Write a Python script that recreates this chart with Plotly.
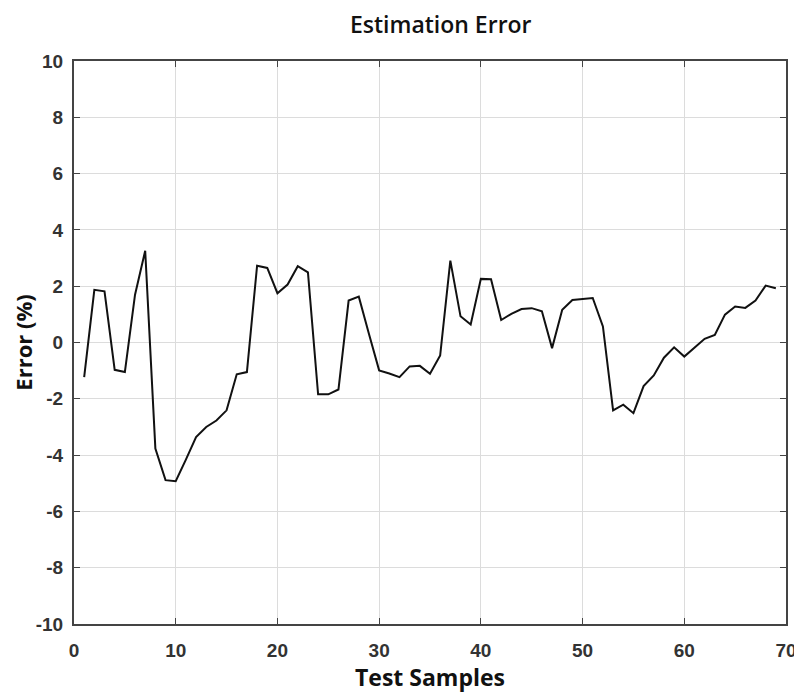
import plotly.graph_objects as go

samples = list(range(1, 70))
errors = [
    -1.23, 1.87, 1.82, -0.97, -1.05, 1.70, 3.26, -3.77, -4.89, -4.93,
    -4.16, -3.36, -3.00, -2.77, -2.41, -1.13, -1.05, 2.73, 2.65, 1.75,
    2.06, 2.71, 2.49, -1.84, -1.84, -1.67, 1.49, 1.63, 0.30, -0.99,
    -1.10, -1.23, -0.85, -0.83, -1.11, -0.46, 2.91, 0.93, 0.64, 2.26,
    2.25, 0.80, 1.02, 1.19, 1.22, 1.11, -0.20, 1.16, 1.51, 1.55,
    1.58, 0.57, -2.41, -2.21, -2.51, -1.55, -1.17, -0.54, -0.17, -0.50,
    -0.20, 0.13, 0.27, 0.99, 1.28, 1.23, 1.49, 2.02, 1.93,
]
x_ticks = [0, 10, 20, 30, 40, 50, 60, 70]
y_ticks = [-10, -8, -6, -4, -2, 0, 2, 4, 6, 8, 10]

fig = go.Figure()
fig.add_trace(go.Scatter(x=samples, y=errors, mode="lines",
                         line=dict(color="#111111", width=2), showlegend=False))

tickfont = dict(family="Liberation Sans, Arial", size=19, color="#333", weight="bold")
axis_common = dict(
    showline=True, linecolor="#444", linewidth=2, mirror="ticks",
    ticks="inside", ticklen=6, tickcolor="#444", tickwidth=1,
    showgrid=True, gridcolor="#dcdcdc", gridwidth=1, zeroline=False,
    tickfont=tickfont, automargin=False,
)
fig.update_xaxes(range=[0, 70], tickvals=x_ticks, ticktext=[str(v) for v in x_ticks],
                 ticklabelstandoff=8,
                 title=dict(text="Test Samples", font=dict(family="Open Sans", size=23, color="#111", weight="bold"), standoff=2),
                 **axis_common)
fig.update_yaxes(range=[-10, 10], tickvals=y_ticks, ticktext=[str(v) for v in y_ticks],
                 ticklabelstandoff=5,
                 title=dict(text="Error (%)", font=dict(family="Open Sans", size=22, color="#111", weight="bold"), standoff=4),
                 **axis_common)
fig.update_layout(
    width=794, height=688,
    margin=dict(l=66, r=16, t=53, b=72),
    paper_bgcolor="white", plot_bgcolor="white",
    title=dict(text="Estimation Error", x=0.545, xanchor="center", y=0.975, yanchor="middle",
               font=dict(family="Open Sans", size=23, color="#111", weight=600)),
)
fig.write_html("out.html")
